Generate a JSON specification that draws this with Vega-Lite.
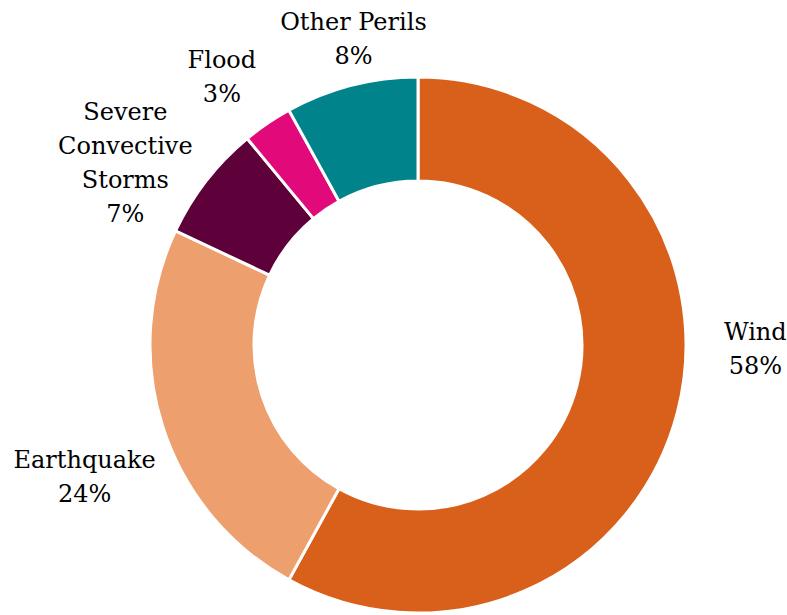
{
  "$schema": "https://vega.github.io/schema/vega-lite/v6.json",
  "width": 738,
  "height": 540,
  "autosize": {"type": "none"},
  "padding": {"left": 49, "top": 75, "right": 0, "bottom": 0},
  "background": "white",
  "config": {"view": {"stroke": null}},
  "data": {
    "values": [
      {"peril": "Wind", "lines": "Wind", "share": 58, "order": 1},
      {"peril": "Earthquake", "lines": "Earthquake", "share": 24, "order": 2},
      {"peril": "Severe Convective Storms", "lines": "Severe\nConvective\nStorms", "share": 7, "order": 3},
      {"peril": "Flood", "lines": "Flood", "share": 3, "order": 4},
      {"peril": "Other Perils", "lines": "Other Perils", "share": 8, "order": 5}
    ]
  },
  "transform": [
    {"stack": "share", "groupby": [], "sort": [{"field": "order"}], "as": ["t0", "t1"]},
    {"calculate": "(datum.t0 + datum.t1) / 2", "as": "mid"},
    {"calculate": "datum.lines + '\\n' + datum.share + '%'", "as": "label"}
  ],
  "layer": [
    {
      "mark": {"type": "arc", "outerRadius": 268, "innerRadius": 164, "stroke": "white", "strokeWidth": 3},
      "encoding": {
        "theta": {"field": "t0", "type": "quantitative", "scale": {"domain": [0, 100]}},
        "theta2": {"field": "t1"},
        "color": {
          "field": "peril",
          "type": "nominal",
          "legend": null,
          "scale": {
            "domain": ["Wind", "Earthquake", "Severe Convective Storms", "Flood", "Other Perils"],
            "range": ["#D9601A", "#EE9F6E", "#5E0039", "#E2097A", "#00838A"]
          }
        }
      }
    },
    {
      "transform": [{"filter": "datum.peril === 'Wind'"}],
      "mark": {"type": "text", "radius": 340, "dx": 8, "dy": -97, "font": "DejaVu Serif", "fontSize": 24, "lineHeight": 34, "lineBreak": "\n", "align": "center", "baseline": "middle", "color": "#000000"},
      "encoding": {"theta": {"field": "mid", "type": "quantitative"}, "text": {"field": "label"}}
    },
    {
      "transform": [{"filter": "datum.peril === 'Earthquake'"}],
      "mark": {"type": "text", "radius": 340, "dx": -10, "dy": 11, "font": "DejaVu Serif", "fontSize": 24, "lineHeight": 34, "lineBreak": "\n", "align": "center", "baseline": "middle", "color": "#000000"},
      "encoding": {"theta": {"field": "mid", "type": "quantitative"}, "text": {"field": "label"}}
    },
    {
      "transform": [{"filter": "datum.peril === 'Severe Convective Storms'"}],
      "mark": {"type": "text", "radius": 340, "dx": -24, "dy": -24, "font": "DejaVu Serif", "fontSize": 24, "lineHeight": 34, "lineBreak": "\n", "align": "center", "baseline": "middle", "color": "#000000"},
      "encoding": {"theta": {"field": "mid", "type": "quantitative"}, "text": {"field": "label"}}
    },
    {
      "transform": [{"filter": "datum.peril === 'Flood'"}],
      "mark": {"type": "text", "radius": 340, "dx": -5, "dy": -3, "font": "DejaVu Serif", "fontSize": 24, "lineHeight": 34, "lineBreak": "\n", "align": "center", "baseline": "middle", "color": "#000000"},
      "encoding": {"theta": {"field": "mid", "type": "quantitative"}, "text": {"field": "label"}}
    },
    {
      "transform": [{"filter": "datum.peril === 'Other Perils'"}],
      "mark": {"type": "text", "radius": 340, "dx": 20, "dy": 7, "font": "DejaVu Serif", "fontSize": 24, "lineHeight": 34, "lineBreak": "\n", "align": "center", "baseline": "middle", "color": "#000000"},
      "encoding": {"theta": {"field": "mid", "type": "quantitative"}, "text": {"field": "label"}}
    }
  ]
}
